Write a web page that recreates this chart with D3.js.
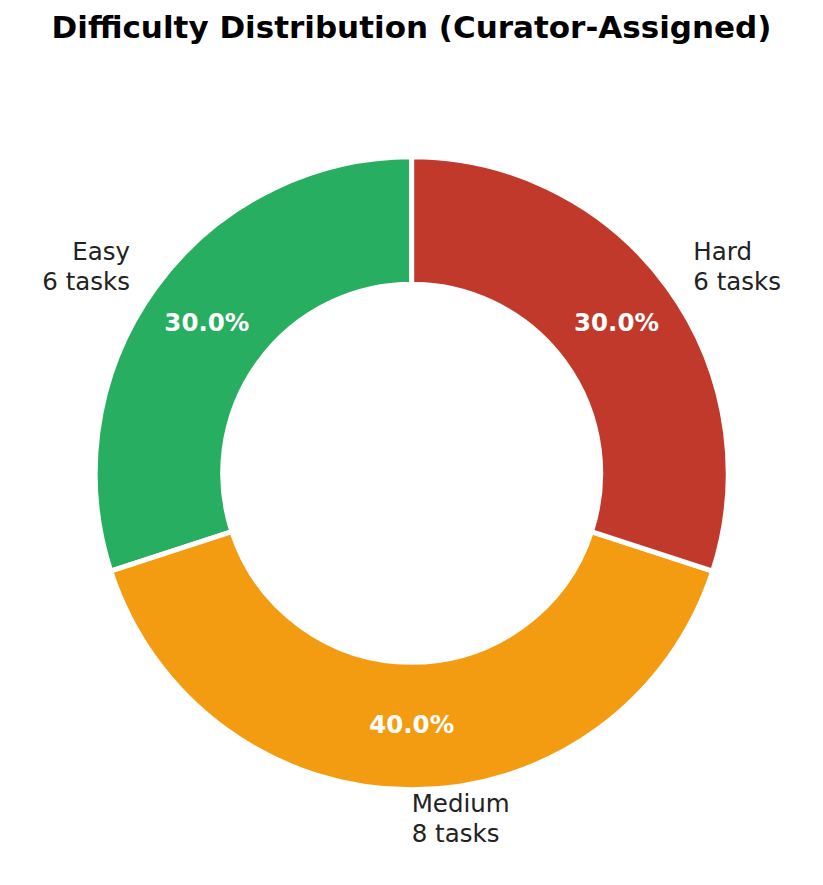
<!DOCTYPE html>
<html>
<head>
<meta charset="utf-8">
<script src="https://cdn.jsdelivr.net/npm/d3@7"></script>
<style>
  body { margin: 0; background: #fff; }
  svg { display: block; }
</style>
</head>
<body>
<div id="chart"></div>
<script>
var categories = ["Easy", "Medium", "Hard"];
var taskCounts = [6, 8, 6];
var sliceColors = ["#27ae60", "#f39c12", "#c0392b"];
var titleText = "Difficulty Distribution (Curator-Assigned)";

const width = 823;
const height = 885;
const cx = 411.7;
const cy = 473.3;
const outerR = 316.5;
const innerR = 189;
const fontFam = "'DejaVu Sans', sans-serif";

let svg = d3.select("#chart")
  .append("svg")
  .attr("width", width)
  .attr("height", height);

svg.append("text")
  .attr("x", 411.5)
  .attr("y", 38)
  .attr("text-anchor", "middle")
  .attr("font-family", fontFam)
  .attr("font-weight", "bold")
  .attr("font-size", "31px")
  .attr("fill", "#000")
  .text(titleText);

var data = categories.map((c, i) => ({ name: c, count: taskCounts[i], color: sliceColors[i] }));
var total = d3.sum(taskCounts);

// matplotlib style: start at top, counterclockwise
var pie = d3.pie()
  .value(d => d.count)
  .sort(null)
  .startAngle(0)
  .endAngle(-2 * Math.PI);

var arcs = pie(data);

var arc = d3.arc().innerRadius(innerR).outerRadius(outerR);

let g = svg.append("g").attr("transform", `translate(${cx},${cy})`);

g.selectAll("path")
  .data(arcs)
  .enter()
  .append("path")
  .attr("d", arc)
  .attr("fill", d => d.data.color)
  .attr("stroke", "#fff")
  .attr("stroke-width", 5)
  .attr("stroke-linejoin", "miter");

function midAngle(d) { return (d.startAngle + d.endAngle) / 2; }

// percent labels at 0.8 R
g.selectAll("text.pct")
  .data(arcs)
  .enter()
  .append("text")
  .attr("class", "pct")
  .attr("x", d => Math.sin(midAngle(d)) * outerR * 0.8)
  .attr("y", d => -Math.cos(midAngle(d)) * outerR * 0.8 + 7)
  .attr("text-anchor", "middle")
  .attr("font-family", fontFam)
  .attr("font-weight", "bold")
  .attr("font-size", "24.5px")
  .attr("fill", "#fff")
  .text(d => (d.data.count / total * 100).toFixed(1) + "%");

// outside labels at 1.1 R
var labels = g.selectAll("text.lbl")
  .data(arcs)
  .enter()
  .append("text")
  .attr("class", "lbl")
  .attr("font-family", fontFam)
  .attr("font-size", "24.5px")
  .attr("fill", "#222")
  .attr("text-anchor", d => Math.sin(midAngle(d)) < -0.01 ? "end" : "start");

labels.each(function(d) {
  let x = Math.sin(midAngle(d)) * outerR * 1.1;
  let y = -Math.cos(midAngle(d)) * outerR * 1.1;
  let t = d3.select(this);
  t.append("tspan").attr("x", x).attr("y", y - 9).text(d.data.name);
  t.append("tspan").attr("x", x).attr("y", y + 21).text(d.data.count + " tasks");
});
</script>
</body>
</html>
